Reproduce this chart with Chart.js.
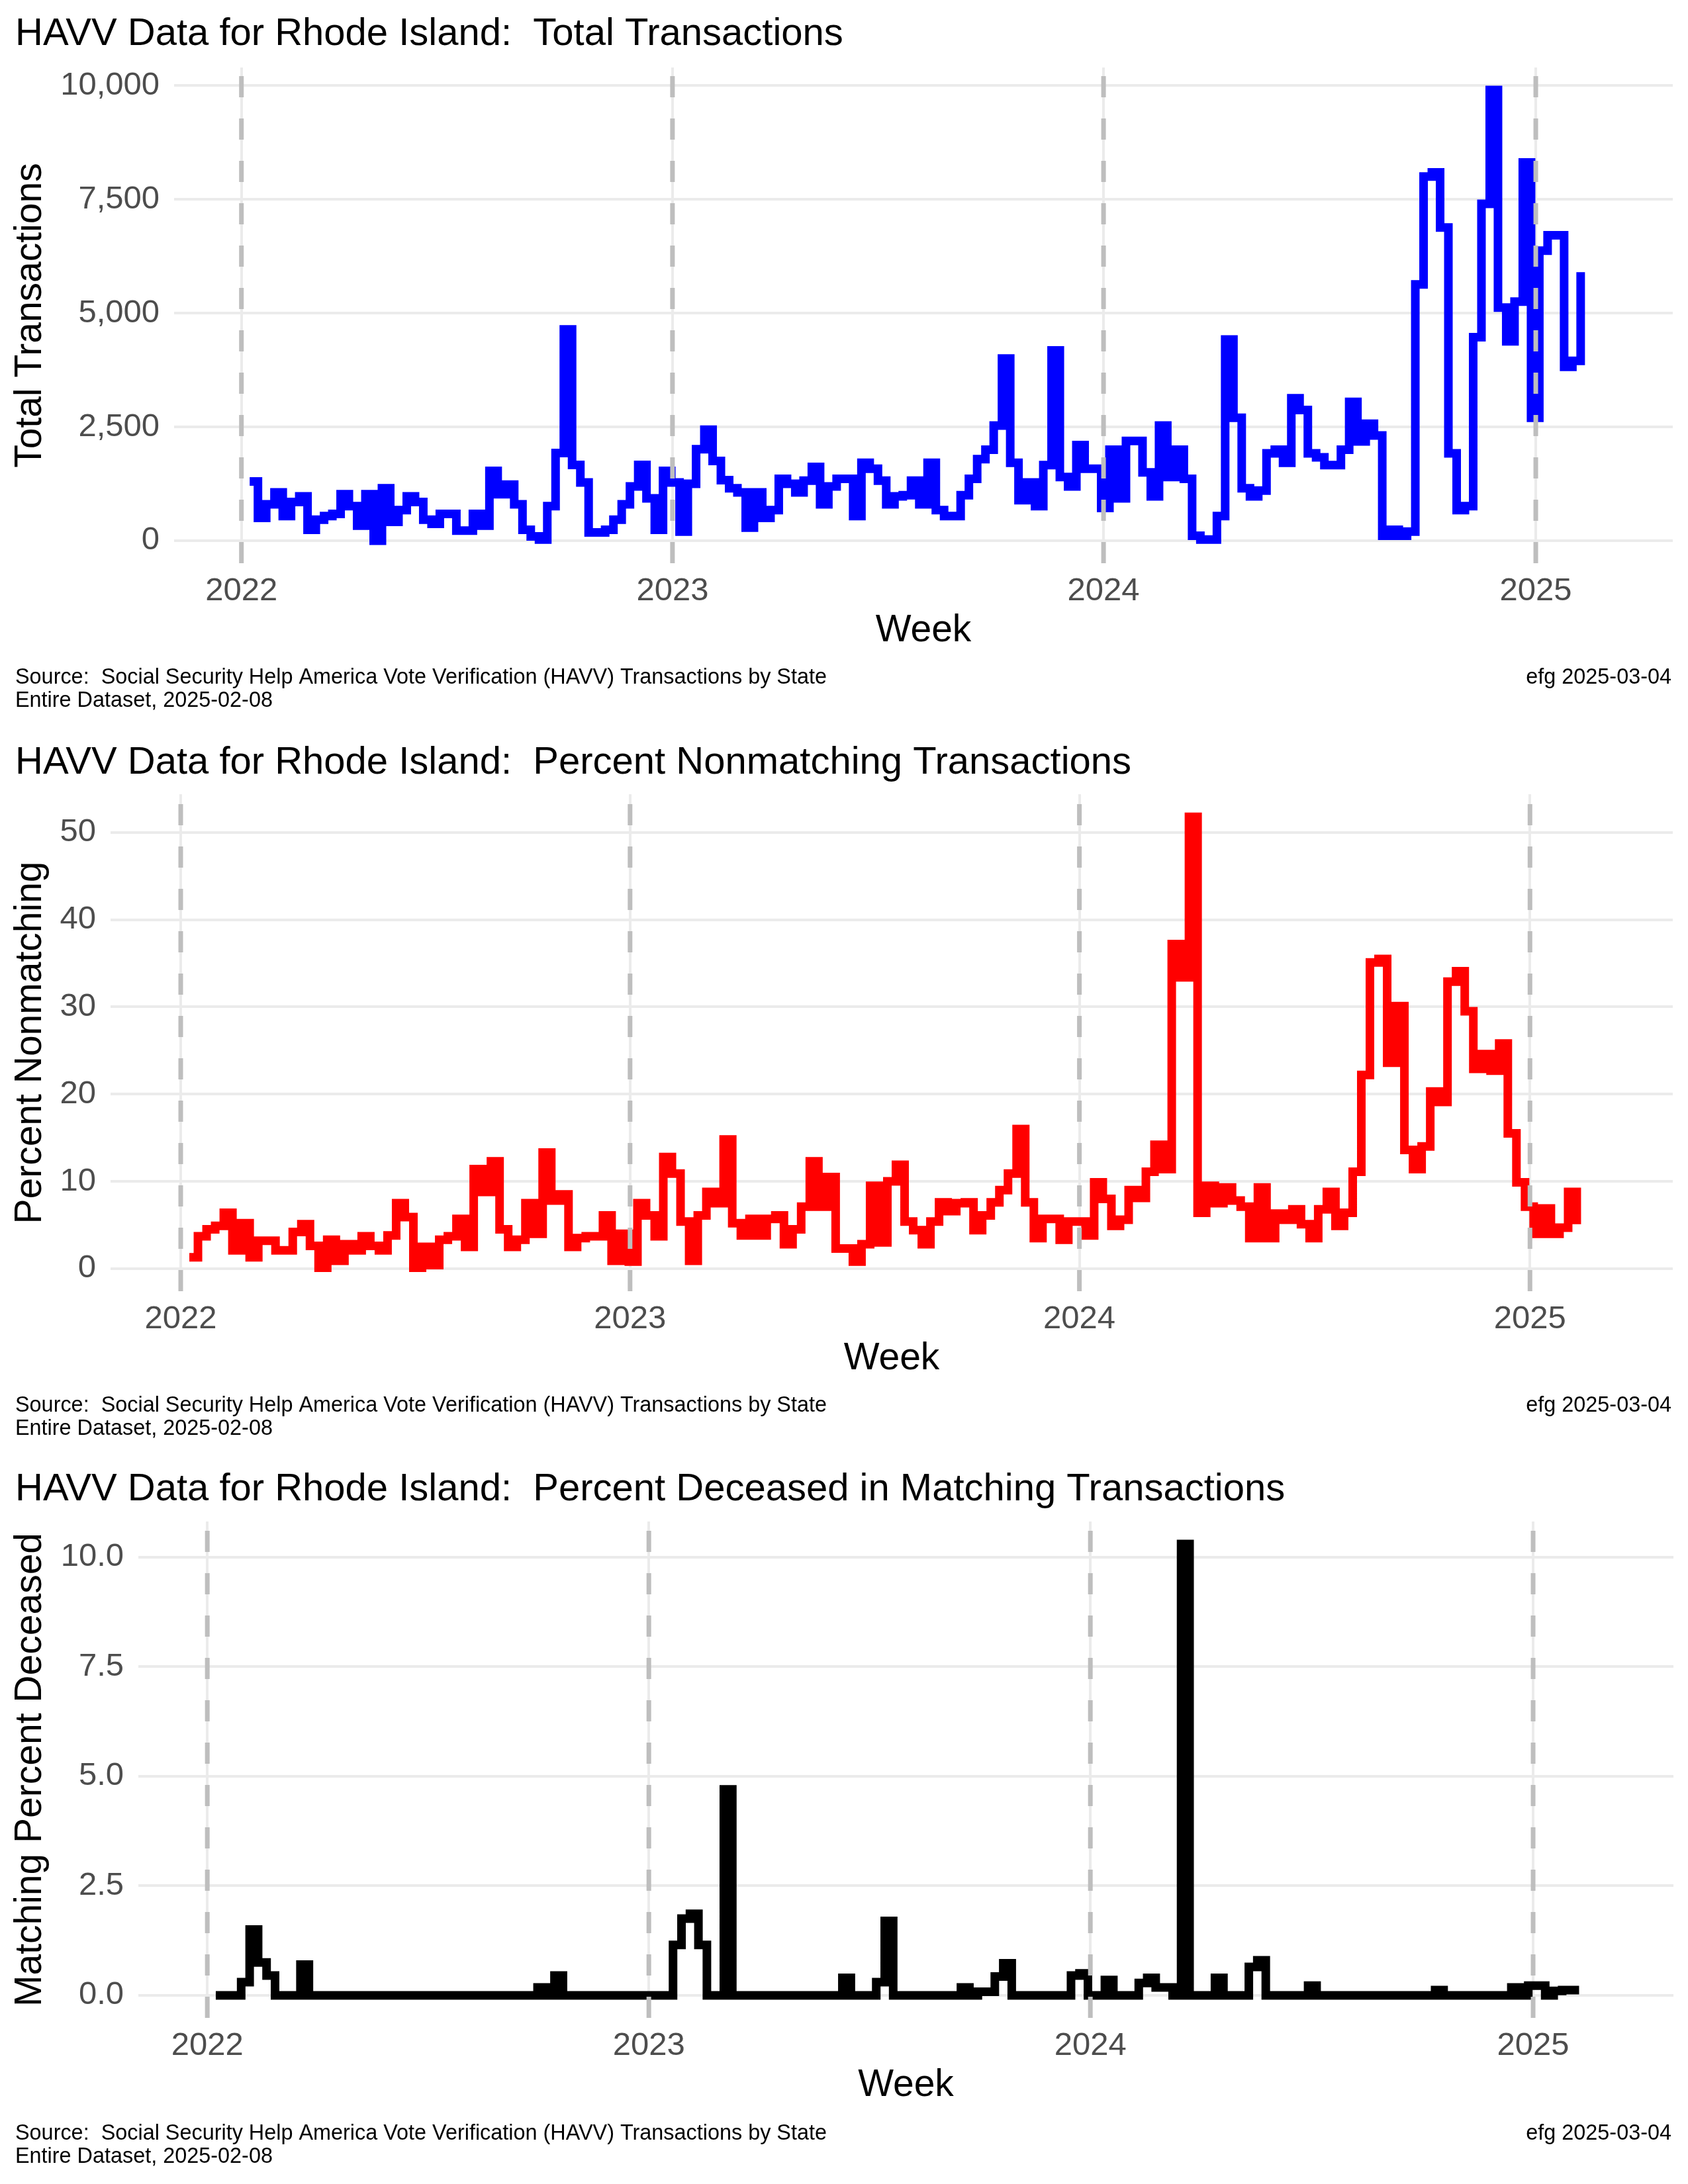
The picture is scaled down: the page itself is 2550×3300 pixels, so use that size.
<!DOCTYPE html>
<html>
<head>
<meta charset="utf-8">
<title>HAVV Data for Rhode Island</title>
<script src="https://cdn.jsdelivr.net/npm/chart.js@4.4.1/dist/chart.umd.min.js"></script>
<style>
  html, body { margin: 0; padding: 0; background: #fff; }
  body { width: 2550px; height: 3300px; position: relative; overflow: hidden; }
  canvas { position: absolute; left: 0; }
</style>
</head>
<body>
<canvas id="total" style="top:0px"></canvas>
<canvas id="nonmatch" style="top:1100px"></canvas>
<canvas id="deceased" style="top:2200px"></canvas>
<script>
// weekly values, first week ends 2022-01-08, last one 2025-02-08
var firstWeek = Date.UTC(2022, 0, 8);
var yearTicks = [2022, 2023, 2024, 2025];

var totalTransactions = [
    1300, 500, 800, 1060, 540, 850, 975, 240, 460, 540,
    590, 1020, 760, 330, 1020, 0, 1150, 415, 670, 975,
    850, 460, 370, 590, 590, 220, 220, 590, 330, 1535,
    1020, 1230, 800, 240, 95, 25, 760, 1925, 4640, 1665,
    1280, 180, 180, 240, 460, 800, 1190, 1665, 930, 240,
    1535, 1280, 200, 1250, 2010, 2440, 1750, 1330, 1150, 1060,
    285, 1060, 500, 670, 1360, 1250, 1060, 1320, 1620, 800,
    1190, 1360, 1360, 540, 1710, 1580, 1320, 800, 975, 1000,
    1320, 800, 1710, 670, 540, 540, 1000, 1360, 1790, 2000,
    2530, 4000, 1710, 890, 1280, 760, 1660, 4180, 1400, 1190,
    2100, 1580, 1580, 720, 2000, 930, 2190, 2190, 1500, 975,
    2530, 1400, 2000, 1360, 110, 25, 25, 540, 4420, 2700,
    1150, 975, 1100, 1920, 2000, 1710, 3130, 2870, 1920, 1830,
    1660, 1660, 2000, 3050, 2180, 2570, 2310, 110, 240, 110,
    200, 5630, 8000, 8090, 6880, 1920, 670, 760, 4470, 7400,
    9900, 5120, 4380, 5250, 8310, 2700, 6370, 6710, 6710, 3820,
    3950, 5900
];

var percentNonmatching = [
    1.3, 3.7, 4.5, 4.9, 6.4, 2.1, 5.2, 1.3, 3.2, 3.2,
    2.1, 2.1, 4.2, 5.1, 2.6, 0.1, 3.3, 0.9, 2.8, 2.1,
    3.7, 2.6, 2.1, 3.8, 7.5, 5.9, 0.1, 2.5, 0.4, 3.3,
    3.7, 5.7, 2.5, 11.4, 8.8, 12.3, 4.5, 2.5, 3.3, 7.5,
    4.0, 13.3, 7.8, 8.5, 2.5, 3.5, 3.7, 3.7, 6.1, 0.9,
    4.0, 0.8, 7.5, 6.1, 3.7, 12.8, 10.9, 5.4, 0.9, 6.1,
    8.8, 7.5, 14.8, 5.2, 3.8, 5.7, 3.8, 5.7, 6.1, 2.8,
    4.5, 7.1, 12.3, 7.1, 10.5, 2.3, 2.3, 0.8, 2.8, 9.5,
    3.0, 10.0, 11.9, 5.4, 4.4, 2.8, 5.4, 7.6, 6.6, 7.5,
    7.6, 4.4, 6.1, 7.6, 9.0, 10.9, 16.0, 7.6, 3.5, 5.7,
    5.7, 3.3, 5.4, 5.4, 3.8, 9.9, 8.0, 4.9, 5.6, 9.0,
    8.1, 11.1, 14.2, 11.4, 37.2, 33.4, 51.8, 6.4, 9.5, 7.5,
    9.3, 7.8, 7.1, 3.5, 9.3, 3.5, 6.3, 5.6, 6.8, 5.1,
    3.5, 6.8, 8.8, 4.9, 6.4, 11.1, 22.2, 35.1, 35.5, 23.6,
    30.1, 13.6, 11.4, 14.0, 20.3, 19.1, 32.9, 34.1, 29.5, 22.9,
    24.6, 22.7, 25.8, 15.5, 9.9, 7.1, 4.0, 6.9, 4.0, 4.7,
    8.8, 5.1
];

var percentDeceased = [
    0, 0, 0, 0.3, 1.5, 0.75, 0.45, 0, 0, 0,
    0.7, 0, 0, 0, 0, 0, 0, 0, 0, 0,
    0, 0, 0, 0, 0, 0, 0, 0, 0, 0,
    0, 0, 0, 0, 0, 0, 0, 0, 0.18, 0,
    0.45, 0, 0, 0, 0, 0, 0, 0, 0, 0,
    0, 0, 0, 0, 1.15, 1.75, 1.86, 1.15, 0, 0,
    4.7, 0, 0, 0, 0, 0, 0, 0, 0, 0,
    0, 0, 0, 0, 0.4, 0, 0, 0, 0.3, 1.7,
    0, 0, 0, 0, 0, 0, 0, 0, 0.18, 0,
    0.08, 0.08, 0.43, 0.73, 0, 0, 0, 0, 0, 0,
    0, 0.45, 0.5, 0, 0, 0.35, 0, 0, 0, 0.28,
    0.4, 0.18, 0.18, 0, 10.3, 0, 0, 0, 0.4, 0,
    0, 0, 0.65, 0.8, 0, 0, 0, 0, 0, 0.22,
    0, 0, 0, 0, 0, 0, 0, 0, 0, 0,
    0, 0, 0, 0, 0.12, 0, 0, 0, 0, 0,
    0, 0, 0, 0.18, 0, 0.22, 0.22, 0, 0.1, 0.12,
    0.12, 0.12
];

var totalTicks = [0, 2500, 5000, 7500, 10000];
var nonmatchTicks = [0, 10, 20, 30, 40, 50];
var deceasedTicks = [0, 2.5, 5, 7.5, 10];

var FONT = 'Liberation Sans';
var DAY = 86400000;
// x range of the panels (R pads the date range)
var xMin = Date.UTC(2021, 10, 5);
var xMax = Date.UTC(2025, 3, 27);

// text that is not part of an axis: title and the two caption lines
var panelText = {
    id: 'panelText',
    afterDraw: function (chart, args, opts) {
        var ctx = chart.ctx;
        ctx.save();
        ctx.fillStyle = '#000000';
        ctx.textBaseline = 'alphabetic';
        ctx.textAlign = 'left';
        ctx.font = '58px "' + FONT + '"';
        ctx.fillText(opts.title, 23, opts.titleY);
        ctx.font = '32.4px "' + FONT + '"';
        ctx.fillText('Source:  Social Security Help America Vote Verification (HAVV) Transactions by State', 23, 1033);
        ctx.fillText('Entire Dataset, 2025-02-08', 23, 1068);
        ctx.textAlign = 'right';
        ctx.fillText('efg 2025-03-04', 2525, 1033);
        ctx.restore();
    }
};

// dashed grey lines at every new year, drawn over the data like geom_vline
var yearLines = {
    id: 'yearLines',
    afterDatasetsDraw: function (chart) {
        var ctx = chart.ctx, area = chart.chartArea, xs = chart.scales.x;
        ctx.save();
        ctx.strokeStyle = '#BEBEBE';
        ctx.lineWidth = 7;
        ctx.setLineDash([32, 32]);
        yearTicks.forEach(function (yr) {
            var px = xs.getPixelForValue(Date.UTC(yr, 0, 1));
            ctx.beginPath();
            ctx.moveTo(px, area.bottom);
            ctx.lineTo(px, area.top);
            ctx.stroke();
        });
        ctx.restore();
    }
};

function buildPanel(id, cfg) {
    var canvas = document.getElementById(id);
    canvas.width = 2550;
    canvas.height = 1100;

    var points = cfg.values.map(function (v, i) {
        return { x: firstWeek + i * 7 * DAY, y: v };
    });
    var hi = Math.max.apply(null, cfg.values);
    var pad = hi * 0.05;

    new Chart(canvas, {
        type: 'line',
        data: {
            datasets: [{
                data: points,
                borderColor: cfg.color,
                borderWidth: 13,
                stepped: 'before',
                pointRadius: 0,
                fill: false,
                borderCapStyle: 'butt',
                borderJoinStyle: 'miter'
            }]
        },
        options: {
            responsive: false,
            animation: false,
            devicePixelRatio: 1,
            layout: {
                padding: { top: cfg.top, left: 0, right: 2550 - cfg.right, bottom: 1100 - cfg.bottom - 140 }
            },
            plugins: {
                legend: { display: false },
                tooltip: { enabled: false },
                panelText: { title: cfg.title, titleY: cfg.titleY }
            },
            scales: {
                x: {
                    type: 'linear',
                    min: xMin,
                    max: xMax,
                    afterBuildTicks: function (s) {
                        s.ticks = yearTicks.map(function (yr) { return { value: Date.UTC(yr, 0, 1) }; });
                    },
                    afterFit: function (s) { s.height = 140; },
                    grid: { color: '#EBEBEB', lineWidth: 4, drawTicks: false, tickLength: 0 },
                    border: { display: false },
                    ticks: {
                        autoSkip: false,
                        maxRotation: 0,
                        padding: 13,
                        color: '#4D4D4D',
                        font: { family: FONT, size: 49 },
                        callback: function (v) { return String(new Date(v).getUTCFullYear()); }
                    },
                    title: {
                        display: true,
                        text: 'Week',
                        color: '#000000',
                        font: { family: FONT, size: 57 },
                        padding: { top: 0, bottom: 4 }
                    }
                },
                y: {
                    min: -pad,
                    max: hi + pad,
                    afterBuildTicks: function (s) {
                        s.ticks = cfg.ticks.map(function (v) { return { value: v }; });
                    },
                    afterFit: function (s) { s.width = cfg.left; },
                    grid: { color: '#EBEBEB', lineWidth: 4, drawTicks: false, tickLength: 0 },
                    border: { display: false },
                    ticks: {
                        autoSkip: false,
                        padding: 22,
                        color: '#4D4D4D',
                        font: { family: FONT, size: 49 },
                        callback: cfg.format
                    },
                    title: {
                        display: true,
                        text: cfg.yTitle,
                        color: '#000000',
                        font: { family: FONT, size: 57 },
                        padding: { top: 12, bottom: 0 }
                    }
                }
            }
        },
        plugins: [yearLines, panelText]
    });
}

buildPanel('total', {
    values: totalTransactions,
    color: '#0000FF',
    title: 'HAVV Data for Rhode Island:  Total Transactions',
    titleY: 68,
    yTitle: 'Total Transactions',
    ticks: totalTicks,
    format: function (v) { return v.toLocaleString('en-US'); },
    left: 263, right: 2527, top: 102, bottom: 851
});

buildPanel('nonmatch', {
    values: percentNonmatching,
    color: '#FF0000',
    title: 'HAVV Data for Rhode Island:  Percent Nonmatching Transactions',
    titleY: 69,
    yTitle: 'Percent Nonmatching',
    ticks: nonmatchTicks,
    format: function (v) { return String(v); },
    left: 167, right: 2527, top: 100, bottom: 851
});

buildPanel('deceased', {
    values: percentDeceased,
    color: '#000000',
    title: 'HAVV Data for Rhode Island:  Percent Deceased in Matching Transactions',
    titleY: 67,
    yTitle: 'Matching Percent Deceased',
    ticks: deceasedTicks,
    format: function (v) { return v.toFixed(1); },
    left: 209, right: 2528, top: 99, bottom: 849
});
</script>
</body>
</html>
